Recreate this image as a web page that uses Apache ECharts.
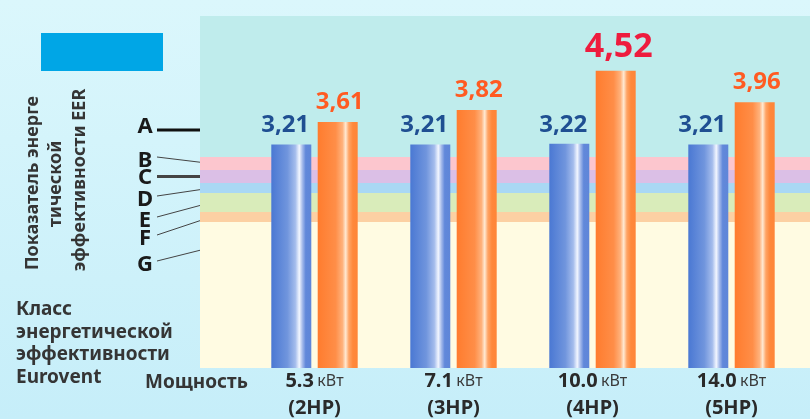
<!DOCTYPE html>
<html><head><meta charset="utf-8">
<script src="https://cdn.jsdelivr.net/npm/echarts@6/dist/echarts.min.js"></script>
<style>html,body{margin:0;padding:0;background:#d3f3fb;}#c{width:810px;height:419px;}</style>
</head><body><div id="c"></div>
<script>
// ---- data ----
const powers = ['5.3', '7.1', '10.0', '14.0'];
const hpLabels = ['(2HP)', '(3HP)', '(4HP)', '(5HP)'];
const eerStandard = [3.21, 3.21, 3.22, 3.21];
const eerInverter = [3.61, 3.82, 4.52, 3.96];
const classNames = ['A', 'B', 'C', 'D', 'E', 'F', 'G'];
const classUpper = [5.49, 2.985, 2.755, 2.524, 2.347, 2.010, 1.833];
const axisMin = -0.76, axisMax = 5.49;

// ---- styles ----
const FONT = '"Noto Sans", "Open Sans", sans-serif';
const bandColors = ['#bfecec', '#fcc6ce', '#dbbfe6', '#a9d8f4', '#d9ecba', '#fcd0a3', '#fffbe2'];
const grad = (stops) => ({type: 'linear', x: 0, y: 0, x2: 1, y2: 0,
  colorStops: stops.map(s => ({offset: s[0], color: s[1]}))});
const blueFill = grad([[0, '#4a78d3'], [0.4, '#7095dd'], [0.6, '#a4bcec'], [0.7, '#f2f6ff'], [0.78, '#a3b9ea'], [0.86, '#6188da'], [1, '#5f86d8']]);
const orangeFill = grad([[0, '#ff7c2e'], [0.45, '#ff8e48'], [0.62, '#ffb27c'], [0.7, '#ffe9d2'], [0.78, '#ffa465'], [0.88, '#ff883b'], [1, '#ff8538']]);

const maxIdx = eerInverter.indexOf(Math.max(...eerInverter));
const fmt = p => Number(p.value).toFixed(2).replace('.', ',');

const bandAreas = classNames.map((n, i) => [
  {yAxis: classUpper[i], itemStyle: {color: bandColors[i]}},
  {yAxis: i + 1 < classUpper.length ? classUpper[i + 1] : axisMin}
]);

const chart = echarts.init(document.getElementById('c'));
chart.setOption({
  animation: false,
  backgroundColor: {type: 'linear', x: 0, y: 0, x2: 0, y2: 1,
    colorStops: [{offset: 0, color: '#dbf7fc'}, {offset: 1, color: '#c6eef9'}]},
  grid: [
    {left: 200, right: 0, top: 16, bottom: 51},
    {left: 245, right: 9, top: 16, bottom: 51}
  ],
  xAxis: [
    {gridIndex: 0, type: 'value', min: 0, max: 1, show: false},
    {gridIndex: 1, type: 'category', data: powers,
      axisLine: {show: false}, axisTick: {show: false}, splitLine: {show: false},
      axisLabel: {margin: 0, formatter: (v, i) => '{n|' + v + '} {u|кВт}\n{h|' + hpLabels[i] + '}',
        rich: {
          n: {fontFamily: FONT, fontWeight: 'bold', fontSize: 20, color: '#2a2a2a', lineHeight: 27},
          u: {fontFamily: FONT, fontSize: 16, color: '#3a3a3a', lineHeight: 27},
          h: {fontFamily: FONT, fontWeight: 'bold', fontSize: 20, color: '#2a2a2a', lineHeight: 27}
        }}}
  ],
  yAxis: [
    {gridIndex: 0, type: 'value', min: axisMin, max: axisMax, show: false},
    {gridIndex: 1, type: 'value', min: axisMin, max: axisMax, startValue: axisMin, show: false}
  ],
  series: [
    {type: 'line', xAxisIndex: 0, yAxisIndex: 0, data: [], silent: true,
      markArea: {silent: true, data: bandAreas}},
    {type: 'bar', name: 'EER', xAxisIndex: 1, yAxisIndex: 1, data: eerStandard,
      barWidth: 40, barGap: '16%',
      itemStyle: {color: blueFill},
      label: {show: true, position: 'top', distance: 7, offset: [-6, 0], formatter: fmt,
        fontFamily: FONT, fontWeight: 'bold', fontSize: 24, color: '#1f4f92'}},
    {type: 'bar', name: 'EER inverter', xAxisIndex: 1, yAxisIndex: 1,
      data: eerInverter.map((v, i) => i === maxIdx
        ? {value: v, label: {fontSize: 34, color: '#ee1c3e', offset: [3, 0], distance: 6}}
        : v),
      barWidth: 40, barGap: '16%',
      itemStyle: {color: orangeFill},
      label: {show: true, position: 'top', distance: 8, offset: [2, 0], formatter: fmt,
        fontFamily: FONT, fontWeight: 'bold', fontSize: 24, color: '#ff5b22'}}
  ]
});

// ---- annotations ----
const letterY = [127, 161, 178, 200, 221, 239, 265];
const px = v => chart.convertToPixel({gridIndex: 0}, [0, v])[1];
const lineEnds = classNames.map((n, i) => {
  if (i === 0) return [219, 130];
  if (i === classNames.length - 1) return [217, 246];
  return [211, (px(classUpper[i]) + px(classUpper[i + 1])) / 2];
});
const graphics = [];
graphics.push({type: 'rect', shape: {x: 41, y: 33, width: 122, height: 38}, style: {fill: '#00a6e6'}});
const txt = (x, y, text, extra) => Object.assign({type: 'text', x: x, y: y,
  style: Object.assign({text: text, fontFamily: FONT, fontSize: 19, fontWeight: 'bold', fill: '#353535',
    textAlign: 'left', textVerticalAlign: 'middle'}, extra || {})});
graphics.push(Object.assign(txt(33, 183, 'Показатель энерге', {textAlign: 'center', fontSize: 18}), {rotation: Math.PI / 2}));
graphics.push(Object.assign(txt(56, 184, 'тической', {textAlign: 'center', fontSize: 18}), {rotation: Math.PI / 2}));
graphics.push(Object.assign(txt(80, 180, 'эффективности EER', {textAlign: 'center', fontSize: 18}), {rotation: Math.PI / 2}));
['Класс', 'энергетической', 'эффективности', 'Eurovent'].forEach((t, i) => graphics.push(txt(16, 310 + i * 22.5, t)));
graphics.push(txt(145, 383, 'Мощность'));
classNames.forEach((n, i) => {
  graphics.push(txt(145, letterY[i], n, {textAlign: 'center', fontWeight: 'bold', fontSize: 22, fill: '#1a1a1a'}));
  const thick = (i === 0 || i === 2);
  graphics.push({type: 'line', shape: {x1: 157, y1: thick ? lineEnds[i][1] : letterY[i] - 4, x2: lineEnds[i][0], y2: lineEnds[i][1]},
    style: {stroke: i === 0 ? '#111' : '#444', lineWidth: thick ? 3 : 1}});
});
chart.setOption({graphic: graphics});
</script></body></html>
